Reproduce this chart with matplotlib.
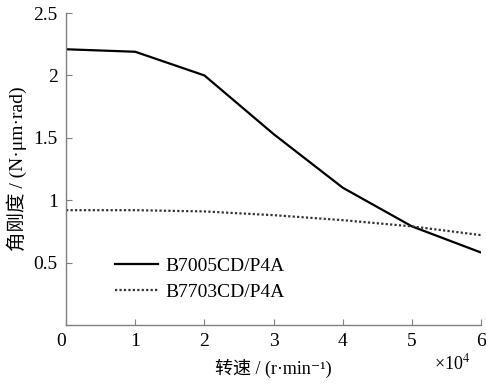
import matplotlib.pyplot as plt

plt.rcParams['font.family'] = ['Liberation Serif', 'Noto Sans CJK SC', 'DejaVu Serif']
plt.rcParams['mathtext.fontset'] = 'stix'

# speed in 1e4 r/min, angular stiffness in N·μm/rad
speed = [0, 1, 2, 3, 4, 5, 6]
b7005 = [2.21, 2.19, 2.00, 1.53, 1.10, 0.79, 0.58]
b7703 = [0.92, 0.92, 0.91, 0.88, 0.84, 0.79, 0.72]
labels = ['B7005CD/P4A', 'B7703CD/P4A']

fig = plt.figure(figsize=(4.86, 3.85), dpi=100)
ax = fig.add_axes([0.136, 0.156, 0.854, 0.81])

ax.plot(speed, b7005, color='black', lw=1.6, label=labels[0])
ax.plot(speed, b7703, color='#333333', lw=1.6, ls=(0, (1, 1)), label=labels[1])

ax.set_xlim(0, 6)
ax.set_ylim(0, 2.5)
ax.set_xticks(speed)
ax.set_yticks([0, 0.5, 1, 1.5, 2, 2.5])
ax.set_yticklabels(['', '0.5', '1', '1.5', '2', '2.5'])
ax.set_xticklabels(['0', '1', '2', '3', '4', '5', '6'])
ax.get_xticklabels()[0].set_horizontalalignment('right')

for s in ['top', 'right']:
    ax.spines[s].set_visible(False)
for s in ['left', 'bottom']:
    ax.spines[s].set_color('#808080')
    ax.spines[s].set_linewidth(1.0)
ax.tick_params(direction='in', length=4, color='#808080', labelsize=14, pad=6)

ax.set_ylabel('角刚度 / (N·μm·rad)', fontsize=14, labelpad=5)
ax.set_xlabel('转速 / (r·min⁻¹)', fontsize=13, labelpad=6)
ax.text(0.975, -0.09, '×10$^4$', transform=ax.transAxes, fontsize=13,
        ha='right', va='top')

ax.legend(loc='lower left', bbox_to_anchor=(0.075, 0.02), frameon=False,
          fontsize=14, handlelength=2.2, handletextpad=0.4, labelspacing=0.45)

fig.savefig('out.png', dpi=100)
